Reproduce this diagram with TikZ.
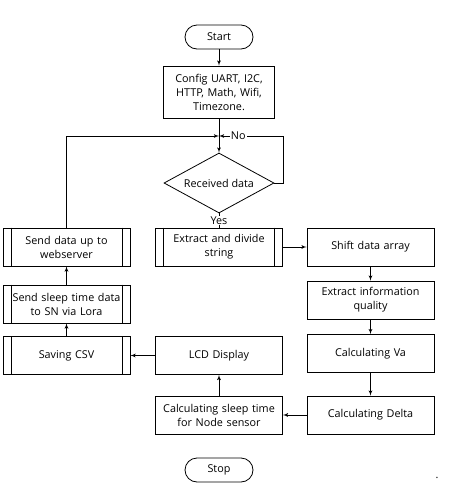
\documentclass[tikz,border=0pt]{standalone}
\usepackage{fontspec}
\setmainfont{Open Sans}
\usetikzlibrary{arrows,shapes.geometric}

\begin{document}
\begin{tikzpicture}[->,>=latex',thick,x=1pt,y=-1pt,
    font=\fontsize{10.8}{14}\selectfont,
    term node/.style={draw,rectangle,rounded corners=12pt,minimum width=68pt,minimum height=24pt,inner sep=0pt},
    proc node/.style={draw,rectangle,align=center,text width=121pt,minimum height=38pt,inner sep=3pt},
    sub node/.style={proc node},
    dec node/.style={draw,diamond,aspect=1.83,minimum width=110pt,minimum height=60pt,inner sep=0pt},
    label node/.style={fill=white,inner sep=1pt}]

    \useasboundingbox (0,0) rectangle (449,493);

    \node[term node] (start) at (219,37) {Start};
    \node[proc node,text width=105pt,minimum height=52pt] (config) at (219,92) {Config UART, I2C,\\HTTP, Math, Wifi,\\Timezone.};
    \coordinate (merge) at (219,136);
    \coordinate (loop) at (283,136);
    \node[dec node] (recv) at (219,183) {Received data};

    \node[sub node] (web) at (66.5,247) {Send data up to\\webserver};
    \node[sub node] (extract) at (219,247) {Extract and divide\\string};
    \node[proc node] (shift) at (370.5,247) {Shift data array};
    \node[sub node] (sleep) at (66.5,304) {Send sleep time data\\to SN via Lora};
    \node[proc node] (info) at (370.5,300) {Extract information\\quality};
    \node[sub node] (csv) at (66.5,355.5) {Saving CSV};
    \node[proc node] (lcd) at (219,355.5) {LCD Display};
    \node[proc node] (va) at (370.5,353.5) {Calculating Va};
    \node[proc node] (calc) at (219,415) {Calculating sleep time\\for Node sensor};
    \node[proc node] (delta) at (370.5,415) {Calculating Delta};
    \node[term node] (stop) at (219,470) {Stop};
    \node (dot) at (437,478) {.};

    % side bars of the subroutine boxes
    \foreach \n in {web,extract,sleep,csv}
      \draw[-] ([xshift=8.5pt]\n.north west) -- ([xshift=8.5pt]\n.south west)
               ([xshift=-8.5pt]\n.north east) -- ([xshift=-8.5pt]\n.south east);

    \draw (start) -- (config);
    \draw[-] (config) -- (merge);
    \draw (merge) -- (recv);
    \draw (recv.east) -| (loop) -- node[label node,pos=0.7] {No} (merge);
    \draw (web.north) |- (merge);
    \draw[-] (recv) -- node[label node] {Yes} (extract);

    \path
      (extract) edge (shift)
      (shift) edge (info)
      (info) edge (va)
      (va) edge (delta)
      (delta) edge (calc)
      (calc) edge (lcd)
      (lcd) edge (csv)
      (csv) edge (sleep)
      (sleep) edge (web)
    ;

\end{tikzpicture}
\end{document}
